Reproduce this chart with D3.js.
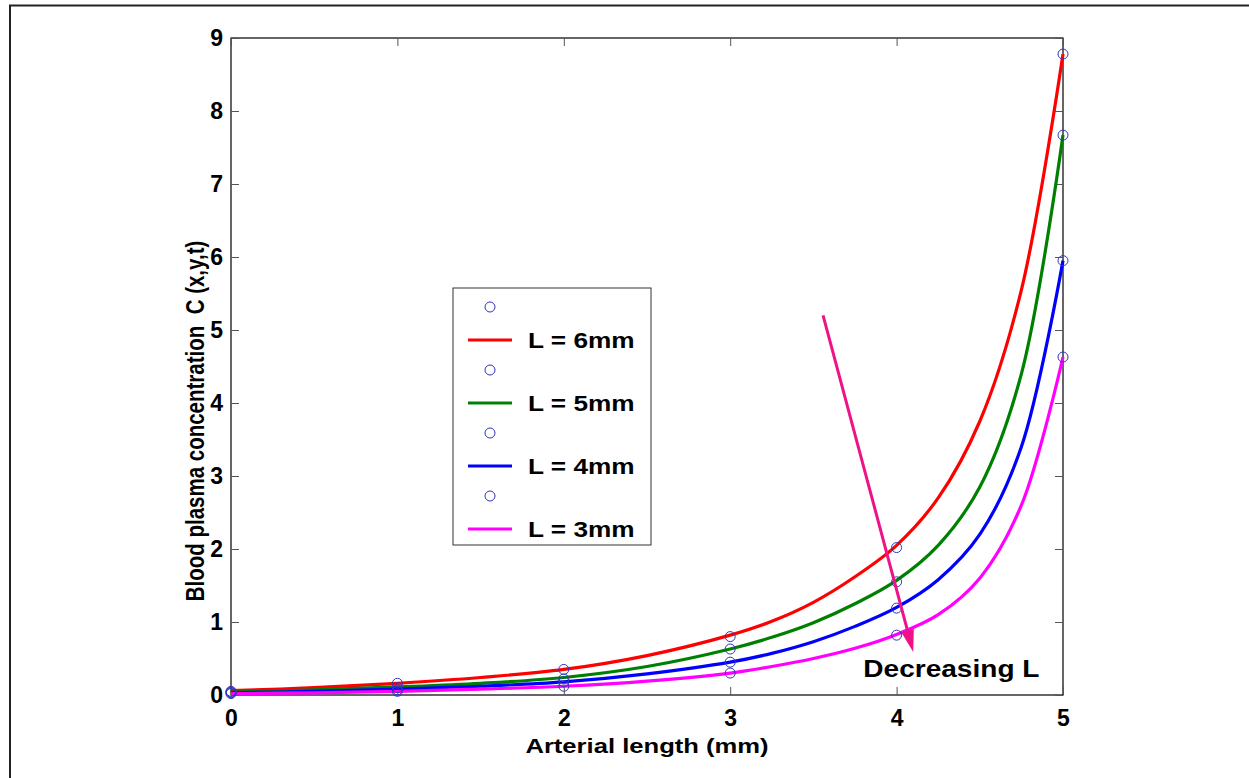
<!DOCTYPE html>
<html>
<head>
<meta charset="utf-8">
<script src="https://cdn.jsdelivr.net/npm/d3@7"></script>
<style>
  body { margin: 0; background: #fff; }
  text { font-family: "Liberation Sans", Arial, sans-serif; font-weight: bold; }
</style>
</head>
<body>
<div id="chart"></div>
<script>
// ---------------- data ----------------
let curveX = [0, 0.5, 1, 1.5, 2, 2.5, 3, 3.25, 3.5, 3.75, 4, 4.25, 4.5, 4.75, 5];
let red6 = [0.06, 0.1, 0.16, 0.24, 0.35, 0.54, 0.82, 1.01, 1.27, 1.62, 2.05, 2.7, 3.75, 5.55, 8.78];
let green5 = [0.04, 0.07, 0.11, 0.16, 0.24, 0.39, 0.63, 0.79, 0.99, 1.25, 1.57, 2.05, 2.85, 4.4, 7.67];
let blue4 = [0.03, 0.05, 0.08, 0.12, 0.18, 0.29, 0.45, 0.57, 0.73, 0.94, 1.2, 1.58, 2.2, 3.4, 5.95];
let magenta3 = [0.02, 0.03, 0.05, 0.08, 0.12, 0.19, 0.3, 0.39, 0.5, 0.64, 0.83, 1.1, 1.6, 2.6, 4.63];

let markerX = [0, 1, 2, 3, 4, 5];
let mark6 = [0.05, 0.16, 0.35, 0.8, 2.02, 8.78];
let mark5 = [0.04, 0.1, 0.22, 0.63, 1.55, 7.67];
let mark4 = [0.03, 0.07, 0.18, 0.45, 1.19, 5.95];
let mark3 = [0.02, 0.05, 0.12, 0.3, 0.82, 4.63];

let legendLabels = ['L = 6mm', 'L = 5mm', 'L = 4mm', 'L = 3mm'];
let xTicks = [0, 1, 2, 3, 4, 5];
let yTicks = [0, 1, 2, 3, 4, 5, 6, 7, 8, 9];

// ---------------- canvas ----------------
let w = 1249, h = 778;
let padding = {top: 38, right: 186, bottom: 83, left: 231};
let width = w - padding.left - padding.right;
let height = h - padding.top - padding.bottom;
let stretch = 1.22; // the source picture is stretched sideways

let svg = d3.select('#chart').append('svg').attr('width', w).attr('height', h);

// outer frame (only top and left visible)
svg.append('path').attr('d', 'M10,778 L10,5.5 L1249,5.5')
  .attr('fill', 'none').attr('stroke', '#222').attr('stroke-width', 2);

let g = svg.append('g').attr('transform', 'translate(' + padding.left + ',' + padding.top + ')');

let xScale = d3.scaleLinear().domain([0, 5]).range([0, width]);
let yScale = d3.scaleLinear().domain([0, 9]).range([height, 0]);

function wideText(parent, x, y, str, size, anchor) {
  return parent.append('text')
    .attr('transform', 'translate(' + x + ',' + y + ') scale(' + stretch + ',1)')
    .attr('text-anchor', anchor || 'start')
    .attr('font-size', size)
    .text(str);
}

// axes box
g.append('rect').attr('width', width).attr('height', height)
  .attr('fill', 'none').attr('stroke', '#000').attr('stroke-width', 1.2);

// axes with inward ticks
let tickLen = 8;
let xAxis = g.append('g').attr('transform', 'translate(0,' + height + ')')
  .call(d3.axisBottom(xScale).tickValues(xTicks).tickSize(-tickLen).tickPadding(15).tickFormat(d3.format('d')));
let xTop = g.append('g')
  .call(d3.axisTop(xScale).tickValues(xTicks).tickSize(-tickLen).tickFormat(''));
let yAxis = g.append('g')
  .call(d3.axisLeft(yScale).tickValues(yTicks).tickSize(-tickLen).tickPadding(8).tickFormat(d3.format('d')));
let yRight = g.append('g').attr('transform', 'translate(' + width + ',0)')
  .call(d3.axisRight(yScale).tickValues(yTicks).tickSize(-tickLen).tickFormat(''));

[xAxis, xTop, yAxis, yRight].forEach(function (a) {
  a.select('.domain').remove();
  a.selectAll('line').attr('stroke', '#555');
  a.selectAll('text').attr('font-size', 23).attr('fill', '#000')
    .style('font-family', '"Liberation Sans", Arial, sans-serif').style('font-weight', 'bold');
});

// curves
let series = [
  {values: red6, marks: mark6, color: '#ff0000'},
  {values: green5, marks: mark5, color: '#008000'},
  {values: blue4, marks: mark4, color: '#0000ff'},
  {values: magenta3, marks: mark3, color: '#ff00ff'}
];

let line = d3.line()
  .x(function (d) { return xScale(d[0]); })
  .y(function (d) { return yScale(d[1]); })
  .curve(d3.curveCatmullRom.alpha(0.5));

series.forEach(function (s) {
  g.append('path')
    .datum(curveX.map(function (x, i) { return [x, s.values[i]]; }))
    .attr('d', line)
    .attr('fill', 'none')
    .attr('stroke', s.color)
    .attr('stroke-width', 3.2);
});

series.forEach(function (s) {
  g.selectAll(null)
    .data(markerX.map(function (x, i) { return [x, s.marks[i]]; }))
    .enter()
    .append('circle')
    .attr('cx', function (d) { return xScale(d[0]); })
    .attr('cy', function (d) { return yScale(d[1]); })
    .attr('r', 5)
    .attr('fill', 'none')
    .attr('stroke', '#3333bb')
    .attr('stroke-width', 1);
});

// arrow "Decreasing L"
let arrowColor = '#ee1188';
let arrowStart = [3.558, 5.2];
let arrowEnd = [4.1, 0.59];
let x1 = xScale(arrowStart[0]), y1 = yScale(arrowStart[1]);
let x2 = xScale(arrowEnd[0]), y2 = yScale(arrowEnd[1]);
let ang = Math.atan2(y2 - y1, x2 - x1);
let headLen = 22, headW = 6.5;
let bx = x2 - headLen * Math.cos(ang), by = y2 - headLen * Math.sin(ang);
g.append('line')
  .attr('x1', x1).attr('y1', y1).attr('x2', bx).attr('y2', by)
  .attr('stroke', arrowColor).attr('stroke-width', 3);
g.append('path')
  .attr('d', 'M' + x2 + ',' + y2 +
    'L' + (bx + headW * Math.sin(ang)) + ',' + (by - headW * Math.cos(ang)) +
    'L' + (bx - headW * Math.sin(ang)) + ',' + (by + headW * Math.cos(ang)) + 'Z')
  .attr('fill', arrowColor);

wideText(g, xScale(3.8), yScale(0.24), 'Decreasing L', 23);

// legend
let legend = svg.append('g').attr('transform', 'translate(453,288)');
legend.append('rect').attr('width', 198).attr('height', 257)
  .attr('fill', '#fff').attr('stroke', '#333').attr('stroke-width', 1);
series.forEach(function (s, i) {
  let y0 = 19 + i * 63;
  legend.append('circle').attr('cx', 37).attr('cy', y0).attr('r', 5)
    .attr('fill', 'none').attr('stroke', '#3333bb').attr('stroke-width', 1);
  legend.append('line').attr('x1', 15).attr('x2', 59).attr('y1', y0 + 33).attr('y2', y0 + 33)
    .attr('stroke', s.color).attr('stroke-width', 3.2);
  wideText(legend, 75, y0 + 41, legendLabels[i], 21.5);
});

// axis labels
wideText(svg, padding.left + width / 2, 753, 'Arterial length (mm)', 21, 'middle');

svg.append('text')
  .attr('transform', 'translate(204,421) rotate(-90) scale(1,' + stretch + ')')
  .attr('text-anchor', 'middle').attr('font-size', 20.5)
  .style('white-space', 'pre')
  .text('Blood plasma concentration  C (x,y,t)');
</script>
</body>
</html>
